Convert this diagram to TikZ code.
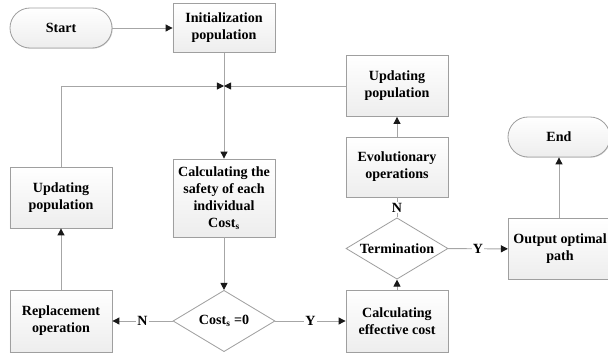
\documentclass[tikz,border=0pt]{standalone}
\usepackage{fontspec}
\setmainfont{Liberation Serif}
\usetikzlibrary{shapes.geometric, arrows.meta, shadows}

\begin{document}
\begin{tikzpicture}[x=0.03cm, y=-0.03cm,
    font=\fontsize{12}{14.5}\selectfont\bfseries,
    box/.style={rectangle, draw=gray!75, line width=0.7pt, top color=white, bottom color=gray!14,
      drop shadow={shadow xshift=0.6pt, shadow yshift=-0.6pt, opacity=0.35},
      align=center, minimum width=3.06cm, minimum height=1.83cm, inner sep=2pt},
    term/.style={box, rounded corners=0.6cm, minimum height=1.2cm},
    decision/.style={diamond, draw=gray!75, line width=0.7pt, fill=white, aspect=1.65,
      minimum width=3.06cm, minimum height=1.84cm, inner sep=0pt, align=center},
    line/.style={draw=gray!70, line width=0.8pt},
    arrow/.style={line, -{Triangle[length=6pt, width=6pt, color=gray!20!black]}},
    lab/.style={fill=white, inner sep=1pt}]
    \useasboundingbox (0,0) rectangle (608,355);

    % Nodes
    \node[term] (start) at (61,28) {Start};
    \node[box, minimum height=1.47cm] (init) at (224,28) {Initialization\\population};
    \coordinate (join) at (224,86);
    \node[box] (updR) at (397,86) {Updating\\population};
    \node[box, minimum height=1.8cm] (evol) at (397,167) {Evolutionary\\operations};
    \node[term] (end) at (559,137) {End};
    \node[box] (updL) at (61,197.5) {Updating\\population};
    \node[box, minimum height=2.34cm] (safety) at (224,198) {Calculating the\\safety of each\\individual\\Cost\textsubscript{s}};
    \node[decision] (term) at (397,248.5) {Termination};
    \node[box, minimum width=3.1cm] (output) at (560,249) {Output optimal\\path};
    \node[box, minimum height=1.86cm] (repl) at (61,321) {Replacement\\operation};
    \node[decision] (cost) at (224,321) {Cost\textsubscript{s} =0};
    \node[box, minimum height=1.86cm] (eff) at (397,321) {Calculating\\effective cost};

    % Edges
    \draw[arrow] (start) -- (init);
    \draw[line] (init) -- (join);
    \draw[arrow] (join) -- (safety);
    \draw[arrow] (updL.north) |- (join);
    \draw[arrow] (updR) -- (join);
    \draw[arrow] (evol) -- (updR);
    \draw[arrow] (safety) -- (cost);
    \draw[arrow] (cost) -- node[lab] {N} (repl);
    \draw[arrow] (cost) -- node[lab] {Y} (eff);
    \draw[arrow] (repl) -- (updL);
    \draw[arrow] (eff) -- (term);
    \draw[line] (term) -- node[lab] {N} (evol);
    \draw[arrow] (term) -- node[lab] {Y} (output);
    \draw[arrow] (output.north -| end) -- (end);
  \end{tikzpicture}
\end{document}
